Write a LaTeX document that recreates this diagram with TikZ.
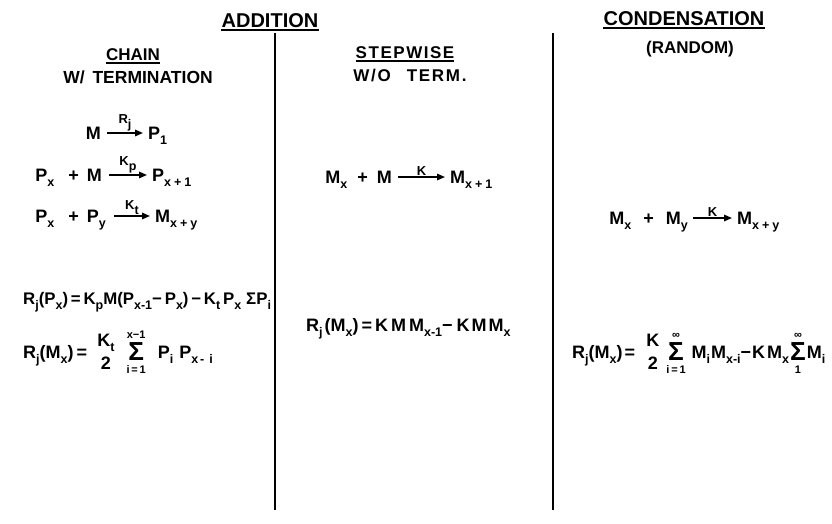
\documentclass[tikz,border=0pt]{standalone}
\usepackage{fontspec}
\setmainfont{Liberation Sans}
\usetikzlibrary{arrows.meta}

% lowered subscript in the lettering style
\newcommand\dn[1]{\raisebox{-5pt}{\fontsize{12.5}{12.5}\selectfont #1}}
% small limits for the sums (upper one lifted, lower one dropped a little)
\newcommand\lmtup[1]{\hbox{\fontsize{11}{11}\selectfont\bfseries\rule[-2.5pt]{0pt}{0pt}#1}}
\newcommand\lmtdn[1]{\hbox{\fontsize{11}{11}\selectfont\bfseries\rule{0pt}{12pt}#1}}
% summation sign with limits above and below
\newcommand\bigsig[2]{\mathop{\hbox{\raisebox{-2pt}{\scalebox{1.45}{\bfseries Σ}}}}\limits^{\lmtup{#1}}_{\lmtdn{#2}}}
% stacked fraction without a bar
\newcommand\frc[2]{{\displaystyle{\hbox{\bfseries #1}\atop\hbox{\bfseries #2}}}}

\tikzset{
  eq/.style={inner sep=0pt, font=\fontsize{18}{21}\selectfont\bfseries},
  head/.style={inner sep=0pt, font=\fontsize{17}{20}\selectfont\bfseries},
  bighead/.style={inner sep=0pt, font=\fontsize{20}{24}\selectfont\bfseries},
  lab/.style={inner sep=1pt, font=\fontsize{13}{15}\selectfont\bfseries},
  rxn/.style={line width=1.5pt, -{Triangle[length=8pt,width=6.5pt]}},
  uline/.style={line width=1.3pt},
  divider/.style={line width=1.6pt}
}

\begin{document}
\begin{tikzpicture}[x=1pt,y=-1pt]
\useasboundingbox (0,0) rectangle (832,523);

% ---- headings ----
\node[bighead, anchor=base] (addn) at (270,27) {ADDITION};
\draw[uline] ([yshift=-3pt]addn.base west) -- ([yshift=-3pt]addn.base east);
\node[bighead, anchor=base] (cond) at (684,25) {CONDENSATION};
\draw[uline] ([yshift=-3pt]cond.base west) -- ([yshift=-3pt]cond.base east);
\node[head, anchor=base] (rand) at (690,53) {(RANDOM)};

\node[head, anchor=base] (chain) at (133,60) {CHAIN};
\draw[uline] ([yshift=-3pt]chain.base west) -- ([yshift=-3pt]chain.base east);
\node[head, anchor=base, font=\fontsize{17.5}{20}\selectfont\bfseries] (wterm) at (138,83) {W/\hspace{3pt} TERMINATION};

\node[head, anchor=base] (step) at (405,58) {\addfontfeatures{LetterSpace=9}STEPWISE};
\draw[uline] ([yshift=-3pt]step.base west) -- ([yshift=-3pt]step.base east);
\node[head, anchor=base] (woterm) at (410,81) {\addfontfeatures{LetterSpace=10}W/O\hspace{16pt}TERM.};

% ---- column dividers ----
\coordinate (v1t) at (275,33);
\coordinate (v1b) at (275,510);
\coordinate (v2t) at (553,33);
\coordinate (v2b) at (553,510);
\draw[divider] (v1t) -- (v1b);
\draw[divider] (v2t) -- (v2b);

% ---- chain addition ----
\node[eq, anchor=base east] (c1l) at (101,139) {M};
\node[eq, anchor=base west] (c1r) at (148,139) {P\dn{1}};
\draw[rxn] ([xshift=6pt,yshift=6pt]c1l.base east) -- ([xshift=-5pt,yshift=6pt]c1r.base west)
  node[lab, midway, above, name=c1k] {R\dn{j}};

\node[eq, anchor=base east] (c2l) at (102,181) {P\dn{x}\hspace{14pt}+\hspace{8pt}M};
\node[eq, anchor=base west] (c2r) at (152,181) {P\dn{x\hspace{3pt}+\hspace{3pt}1}};
\draw[rxn] ([xshift=7pt,yshift=6pt]c2l.base east) -- ([xshift=-5pt,yshift=6pt]c2r.base west)
  node[lab, midway, above, name=c2k] {K\dn{p}};

\node[eq, anchor=base east] (c3l) at (106,222) {P\dn{x}\hspace{14pt}+\hspace{8pt}P\dn{y}};
\node[eq, anchor=base west] (c3r) at (155,222) {M\dn{x\hspace{3pt}+\hspace{3pt}y}};
\draw[rxn] ([xshift=8pt,yshift=6pt]c3l.base east) -- ([xshift=-5pt,yshift=6pt]c3r.base west)
  node[lab, midway, above, name=c3k] {K\dn{t}};

\node[eq, anchor=base west, font=\fontsize{16.8}{20}\selectfont\bfseries] (c4) at (23,304)
  {R\dn{j}(P\dn{x})\,=\,K\dn{p}M(P\dn{x-1}−\,P\dn{x})\,−\,K\dn{t}\,P\dn{x}\hspace{5pt}ΣP\dn{i}};
\node[eq, anchor=base west] (c5) at (23,358)
  {R\dn{j}(M\dn{x})\hspace{3pt}=\hspace{9pt}$\frc{K\dn{t}}{2}\hspace{8pt}\bigsig{x−1}{i\,=\,1}$\hspace{12pt}P\dn{i}\hspace{6pt}P\dn{x\hspace{2pt}-\hspace{5pt}i}};

% ---- stepwise addition ----
\node[eq, anchor=base east] (s1l) at (392,183) {M\dn{x}\hspace{10pt}+\hspace{9pt}M};
\node[eq, anchor=base west] (s1r) at (450,183) {M\dn{x\hspace{3pt}+\hspace{3pt}1}};
\draw[rxn] ([xshift=6pt,yshift=6pt]s1l.base east) -- ([xshift=-5pt,yshift=6pt]s1r.base west)
  node[lab, midway, above, name=s1k] {K};

\node[eq, anchor=base west] (s2) at (306,331)
  {R\dn{j}\hspace{2pt}(M\dn{x})\,=\,K\hspace{3pt}M\hspace{3pt}M\dn{x-1}−\hspace{4pt}K\hspace{2pt}M\hspace{2pt}M\dn{x}};

% ---- condensation ----
\node[eq, anchor=base east] (d1l) at (688,224) {M\dn{x}\hspace{12pt}+\hspace{12pt}M\dn{y}};
\node[eq, anchor=base west] (d1r) at (737,224) {M\dn{x\hspace{3pt}+\hspace{3pt}y}};
\draw[rxn] ([xshift=5pt,yshift=6pt]d1l.base east) -- ([xshift=-5pt,yshift=6pt]d1r.base west)
  node[lab, midway, above, name=d1k] {K};

\node[eq, anchor=base west] (d2) at (572,358)
  {R\dn{j}(M\dn{x})\hspace{2pt}=\hspace{10pt}$\frc{K}{2}\hspace{3pt}\bigsig{∞}{i\,=\,1}$\hspace{6pt}M\dn{i}\hspace{1pt}M\dn{x-i}−\hspace{1pt}K\hspace{2pt}M\dn{x}\hspace{1pt}$\bigsig{∞}{1}$\hspace{1pt}M\dn{i}};
\end{tikzpicture}
\end{document}
